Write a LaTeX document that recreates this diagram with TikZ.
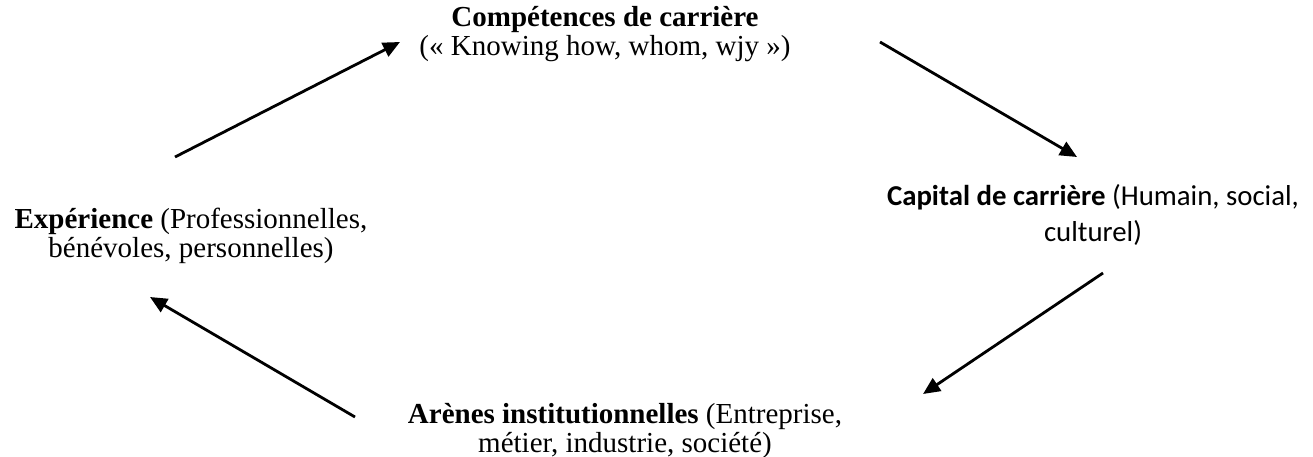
\documentclass[tikz,border=0pt]{standalone}
\usepackage{fontspec}
\setmainfont{Liberation Serif}
\newfontfamily\calibrifont{Carlito}
\usetikzlibrary{arrows.meta}
\begin{document}
\begin{tikzpicture}[x=1pt,y=-1pt,
  lbl/.style={align=center, inner sep=0pt, anchor=base, font=\fontsize{29}{29}\selectfont},
  lblsans/.style={lbl, font=\calibrifont\fontsize{28.8}{36}\selectfont},
  arr/.style={line width=2.8pt, -{Triangle[length=17pt,width=15pt]}}]
\useasboundingbox (0,0) rectangle (1313,457);
\node[lbl] (comp) at (605,56){\textbf{Compétences de carrière}\\(« Knowing how, whom, wjy »)};
\node[lblsans] (cap) at (1093,241){\textbf{Capital de carrière} (Humain, social,\\culturel)};
\node[lbl] (exp) at (191,257){\textbf{Expérience} (Professionnelles,\\bénévoles, personnelles)};
\node[lbl] (aren) at (625,452){\textbf{Arènes institutionnelles} (Entreprise,\\métier, industrie, société)};
\coordinate (exp-out) at (175,157);
\coordinate (comp-in) at (400,42);
\coordinate (comp-out) at (880,42);
\coordinate (cap-in) at (1077,157);
\coordinate (cap-out) at (1103,273);
\coordinate (aren-in) at (923,394);
\coordinate (aren-out) at (355,417);
\coordinate (exp-in) at (150,297);
\draw[arr](exp-out) -- (comp-in);
\draw[arr](comp-out) -- (cap-in);
\draw[arr](cap-out) -- (aren-in);
\draw[arr](aren-out) -- (exp-in);
\end{tikzpicture}
\end{document}
